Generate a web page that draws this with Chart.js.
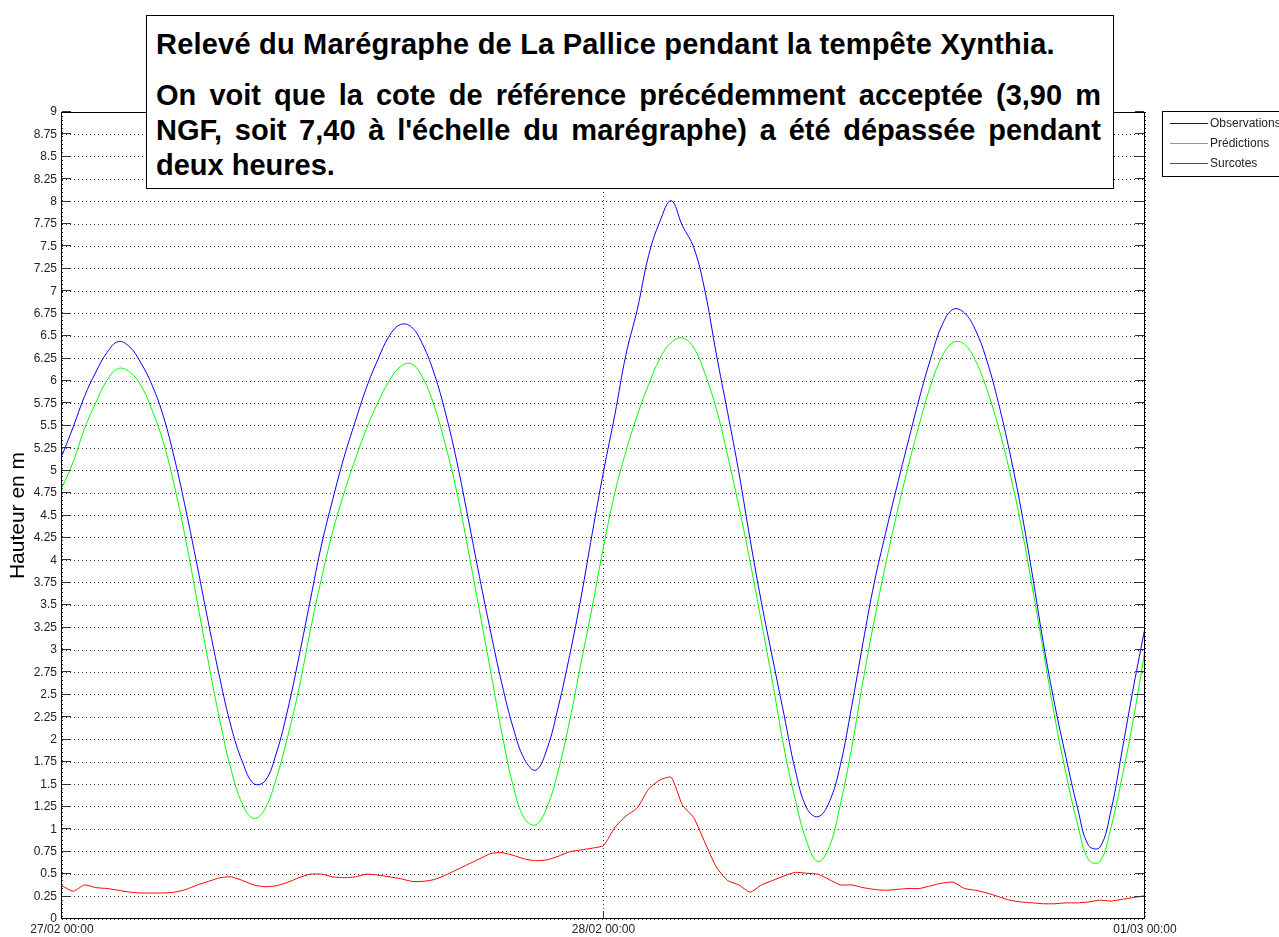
<!DOCTYPE html>
<html lang="fr">
<head>
<meta charset="utf-8">
<title>Marégraphe de La Pallice - Xynthia</title>
<script src="https://cdn.jsdelivr.net/npm/chart.js@4.4.1/dist/chart.umd.min.js"></script>
<style>
    html, body { margin: 0; padding: 0; background: #fff; }
    #wrap { position: relative; width: 1279px; height: 937px; overflow: hidden; }
    #chart { position: absolute; left: 0; top: 0; }
    #note {
        position: absolute; left: 146px; top: 15px; width: 968px; height: 174px;
        box-sizing: border-box; border: 1px solid #000; background: #fff;
        padding: 0 12px 0 9px; color: #000;
        font: bold 29px 'Liberation Sans', Arial, sans-serif; line-height: 35px;
    }
    #note .l1 { margin-top: 11px; white-space: nowrap; letter-spacing: 0.2px; }
    #note .p2 { margin-top: 16px; }
    #note .j { text-align: justify; text-align-last: justify; white-space: nowrap; }
</style>
</head>
<body>
<div id="wrap">
    <canvas id="chart" width="1279" height="937"></canvas>
    <div id="note">
        <div class="l1">Relevé du Marégraphe de La Pallice pendant la tempête Xynthia.</div>
        <div class="p2">
            <div class="j">On voit que la cote de référence précédemment acceptée (3,90 m</div>
            <div class="j">NGF, soit 7,40 à l'échelle du marégraphe) a été dépassée pendant</div>
            <div>deux heures.</div>
        </div>
    </div>
</div>
<script>
// Time in hours since 27/02 00:00
const HOURS = [
    0, 0.5, 1, 1.5, 2, 2.5, 3, 3.5, 4, 4.5, 5, 5.5, 6, 6.5, 7, 7.5, 8, 8.5, 9, 9.5,
    10, 10.5, 11, 11.5, 12, 12.5, 13, 13.5, 14, 14.5, 15, 15.5, 16, 16.5, 17, 17.5, 18, 18.5, 19, 19.5,
    20, 20.5, 21, 21.5, 22, 22.5, 23, 23.5, 24, 24.5, 25, 25.5, 26, 26.5, 27, 27.5, 28, 28.5, 29, 29.5,
    30, 30.5, 31, 31.5, 32, 32.5, 33, 33.5, 34, 34.5, 35, 35.5, 36, 36.5, 37, 37.5, 38, 38.5, 39, 39.5,
    40, 40.5, 41, 41.5, 42, 42.5, 43, 43.5, 44, 44.5, 45, 45.5, 46, 46.5, 47, 47.5, 48
];

// Hauteur en m
const OBSERVATIONS = [
    5.17, 5.49, 5.83, 6.10, 6.32, 6.44, 6.38, 6.20, 5.95, 5.60, 5.12, 4.55, 3.93, 3.29, 2.68, 2.14, 1.75, 1.51, 1.54, 1.85,
    2.33, 2.92, 3.55, 4.17, 4.68, 5.15, 5.55, 5.93, 6.24, 6.50, 6.63, 6.60, 6.40, 6.08, 5.64, 5.10, 4.47, 3.82, 3.20, 2.62,
    2.13, 1.78, 1.66, 1.90, 2.37, 2.94, 3.58, 4.30, 4.99, 5.62, 6.30, 6.80, 7.40, 7.78, 8.01, 7.73, 7.49, 7.00, 6.30, 5.65,
    4.98, 4.23, 3.53, 2.90, 2.28, 1.66, 1.24, 1.14, 1.30, 1.72, 2.37, 3.08, 3.75, 4.30, 4.82, 5.32, 5.81, 6.25, 6.62, 6.80,
    6.76, 6.56, 6.22, 5.76, 5.21, 4.58, 3.85, 3.07, 2.39, 1.80, 1.25, 0.82, 0.80, 1.22, 1.90, 2.60, 3.25
];

const PREDICTIONS = [
    4.81, 5.10, 5.47, 5.76, 6.01, 6.14, 6.10, 5.95, 5.67, 5.31, 4.81, 4.21, 3.53, 2.85, 2.21, 1.66, 1.28, 1.12, 1.23, 1.57,
    2.03, 2.57, 3.21, 3.80, 4.32, 4.75, 5.13, 5.47, 5.76, 6.00, 6.16, 6.19, 6.03, 5.72, 5.28, 4.76, 4.12, 3.44, 2.76, 2.07,
    1.48, 1.12, 1.05, 1.25, 1.66, 2.21, 2.85, 3.48, 4.15, 4.75, 5.22, 5.62, 5.96, 6.25, 6.43, 6.48, 6.37, 6.08, 5.69, 5.17,
    4.60, 3.98, 3.31, 2.63, 1.91, 1.33, 0.87, 0.64, 0.80, 1.28, 1.91, 2.65, 3.33, 3.95, 4.52, 5.04, 5.52, 5.95, 6.27, 6.43,
    6.41, 6.22, 5.90, 5.49, 4.99, 4.40, 3.71, 2.98, 2.25, 1.62, 1.07, 0.66, 0.64, 1.03, 1.60, 2.25, 3.00
];

const SURCOTES = [
    0.37, 0.31, 0.38, 0.35, 0.34, 0.32, 0.30, 0.29, 0.29, 0.29, 0.30, 0.33, 0.38, 0.42, 0.46, 0.47, 0.43, 0.38, 0.36, 0.37,
    0.41, 0.46, 0.50, 0.50, 0.47, 0.46, 0.47, 0.50, 0.49, 0.47, 0.45, 0.42, 0.42, 0.44, 0.49, 0.55, 0.61, 0.67, 0.73, 0.74,
    0.71, 0.67, 0.65, 0.66, 0.70, 0.75, 0.77, 0.79, 0.82, 1.02, 1.15, 1.24, 1.45, 1.55, 1.58, 1.27, 1.13, 0.85, 0.58, 0.43,
    0.38, 0.30, 0.38, 0.43, 0.48, 0.52, 0.51, 0.50, 0.44, 0.38, 0.38, 0.35, 0.33, 0.32, 0.33, 0.34, 0.34, 0.37, 0.40, 0.41,
    0.34, 0.32, 0.29, 0.25, 0.21, 0.19, 0.18, 0.17, 0.17, 0.18, 0.18, 0.19, 0.21, 0.20, 0.22, 0.24, 0.26
];

const X_TICK_HOURS = [0, 24, 48];
const X_TICK_LABELS = ['27/02 00:00', '28/02 00:00', '01/03 00:00'];

const SERIES_NAMES = ['Observations', 'Prédictions', 'Surcotes'];
const SERIES_COLORS = ['#0000ff', '#00ff00', '#ff0000'];

const FONT = "'Liberation Sans', Arial, sans-serif";

function toPoints(values) {
    return values.map((v, i) => ({ x: HOURS[i], y: v }));
}

// axes box, inward tick marks and the small legend box at the right
const framePlugin = {
    id: 'frame',
    afterDraw(chart) {
        const { ctx, chartArea: a, scales } = chart;
        ctx.save();
        ctx.setLineDash([]);
        ctx.lineWidth = 1;

        ctx.strokeStyle = '#333';
        ctx.beginPath();
        scales.y.ticks.forEach(t => {
            const py = Math.round(scales.y.getPixelForValue(t.value)) - 0.5;
            ctx.moveTo(a.left, py);
            ctx.lineTo(a.left + 9, py);
            ctx.moveTo(a.right - 1, py);
            ctx.lineTo(a.right - 10, py);
        });
        scales.x.ticks.forEach(t => {
            const px = Math.round(scales.x.getPixelForValue(t.value)) - 0.5;
            ctx.moveTo(px, a.bottom);
            ctx.lineTo(px, a.bottom - 8);
            ctx.moveTo(px, a.top);
            ctx.lineTo(px, a.top + 8);
        });
        ctx.stroke();

        ctx.strokeStyle = '#000';
        ctx.strokeRect(a.left - 0.5, a.top + 0.5, a.right - a.left, a.bottom - a.top - 1);

        // legend
        const lx = 1162, ly = 111;
        ctx.fillStyle = '#fff';
        ctx.fillRect(lx, ly, 140, 65);
        ctx.strokeStyle = '#000';
        ctx.strokeRect(lx + 0.5, ly + 0.5, 140, 65);
        ctx.font = '12px ' + FONT;
        ctx.textBaseline = 'middle';
        SERIES_NAMES.forEach((name, i) => {
            const y = ly + 12.5 + i * 20;
            ctx.strokeStyle = SERIES_COLORS[i];
            ctx.beginPath();
            ctx.moveTo(lx + 8, y);
            ctx.lineTo(lx + 46, y);
            ctx.stroke();
            ctx.fillStyle = '#222';
            ctx.fillText(name, lx + 48, y + 0.5);
        });
        ctx.restore();
    }
};

document.addEventListener('DOMContentLoaded', () => {
    Chart.defaults.font.family = FONT;
    const ctx = document.getElementById('chart').getContext('2d');
    const series = [OBSERVATIONS, PREDICTIONS, SURCOTES];

    new Chart(ctx, {
        type: 'line',
        data: {
            datasets: series.map((values, i) => ({
                label: SERIES_NAMES[i],
                data: toPoints(values),
                borderColor: SERIES_COLORS[i],
                borderWidth: 1,
                pointRadius: 0,
                tension: i === 2 ? 0.2 : 0.4,
                fill: false
            }))
        },
        options: {
            responsive: false,
            animation: false,
            devicePixelRatio: 1,
            layout: { padding: { top: 112, right: 134, left: 0, bottom: 0 } },
            plugins: {
                legend: { display: false },
                tooltip: { enabled: false }
            },
            scales: {
                x: {
                    type: 'linear',
                    min: 0,
                    max: 48,
                    afterFit: s => { s.height = 18; },
                    afterBuildTicks: s => { s.ticks = X_TICK_HOURS.map(v => ({ value: v })); },
                    ticks: {
                        autoSkip: false,
                        maxRotation: 0,
                        padding: 3,
                        color: '#222',
                        font: { size: 12 },
                        callback: v => X_TICK_LABELS[X_TICK_HOURS.indexOf(v)]
                    },
                    grid: { color: '#333', drawTicks: false },
                    border: { display: false, dash: [1, 3] }
                },
                y: {
                    min: 0,
                    max: 9,
                    afterFit: s => { s.width = 62; },
                    ticks: {
                        stepSize: 0.25,
                        autoSkip: false,
                        padding: 5,
                        color: '#222',
                        font: { size: 12 },
                        callback: v => String(Math.round(v * 100) / 100)
                    },
                    title: {
                        display: true,
                        text: 'Hauteur en m',
                        color: '#000',
                        font: { size: 21 },
                        padding: { top: 6, bottom: 0 }
                    },
                    grid: { color: '#333', drawTicks: false },
                    border: { display: false, dash: [1, 3] }
                }
            }
        },
        plugins: [framePlugin]
    });
});
</script>
</body>
</html>
